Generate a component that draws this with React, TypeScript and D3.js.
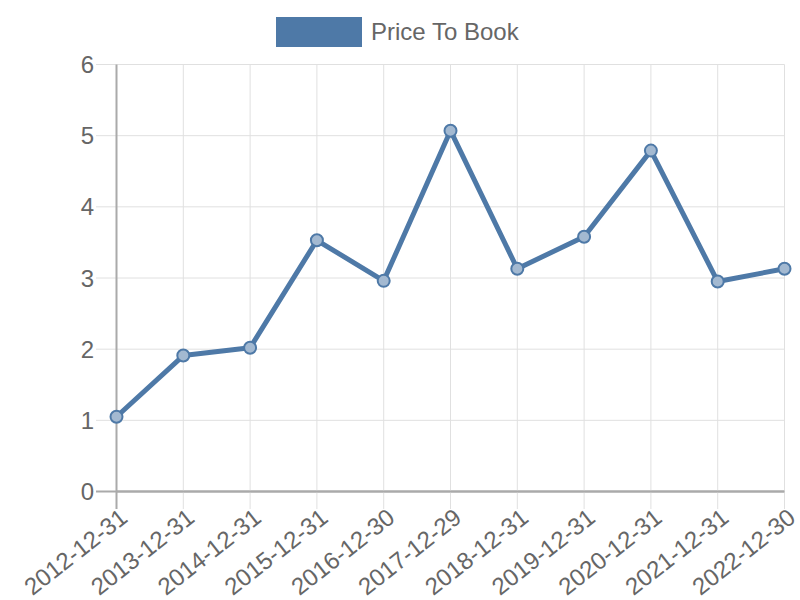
import React from "react";
import * as d3 from "d3";

const categories = ["2012-12-31","2013-12-31","2014-12-31","2015-12-31","2016-12-30","2017-12-29","2018-12-31","2019-12-31","2020-12-31","2021-12-31","2022-12-30"];
const values = [1.05, 1.91, 2.02, 3.53, 2.96, 5.07, 3.13, 3.58, 4.79, 2.95, 3.13];
const yTicks = [0, 1, 2, 3, 4, 5, 6];
const seriesName = "Price To Book";

const W = 800, H = 600;
const left = 116.5, right = 784.5, top = 64.5, bottom = 491.5;
const color = "#4e79a7";
const font = "'Liberation Sans', Arial, sans-serif";

export default function App() {
  const x = d3.scalePoint<string>().domain(categories).range([left, right]);
  const y = d3.scaleLinear().domain([0, 6]).range([bottom, top]);
  const line = d3.line<number>().x((_, i) => x(categories[i])!).y(d => y(d));
  return (
    <svg width={W} height={H} style={{ position: "absolute", left: 0, top: 0 }}>
      <rect width={W} height={H} fill="#fff" />
      {yTicks.map(t => (
        <g key={t}>
          <line x1={96} x2={right} y1={y(t)} y2={y(t)} stroke={t === 0 ? "#aaa" : "#e0e0e0"} strokeWidth={t === 0 ? 2 : 1} />
          <text x={94} y={y(t)} dy="0.36em" textAnchor="end" fontFamily={font} fontSize={24} fill="#666">{t}</text>
        </g>
      ))}
      {categories.map((c, i) => (
        <g key={c}>
          <line x1={x(c)} x2={x(c)} y1={top} y2={509} stroke={i === 0 ? "#aaa" : "#e0e0e0"} strokeWidth={i === 0 ? 2 : 1} />
          <text transform={`translate(${x(c)! + 2},${507}) rotate(-38)`} textAnchor="end" dy="0.72em" fontFamily={font} fontSize={24} fill="#666">{c}</text>
        </g>
      ))}
      <line x1={left} x2={right} y1={bottom} y2={bottom} stroke="#aaa" strokeWidth={2} />
      <path d={line(values)!} fill="none" stroke={color} strokeWidth={5} strokeLinejoin="round" />
      {values.map((v, i) => (
        <circle key={i} cx={x(categories[i])} cy={y(v)} r={6} fill="#a3b9d1" stroke={color} strokeWidth={2} />
      ))}
      <rect x={276} y={17} width={86} height={30} fill={color} />
      <text x={371} y={40} fontFamily={font} fontSize={24} fill="#666">{seriesName}</text>
    </svg>
  );
}
